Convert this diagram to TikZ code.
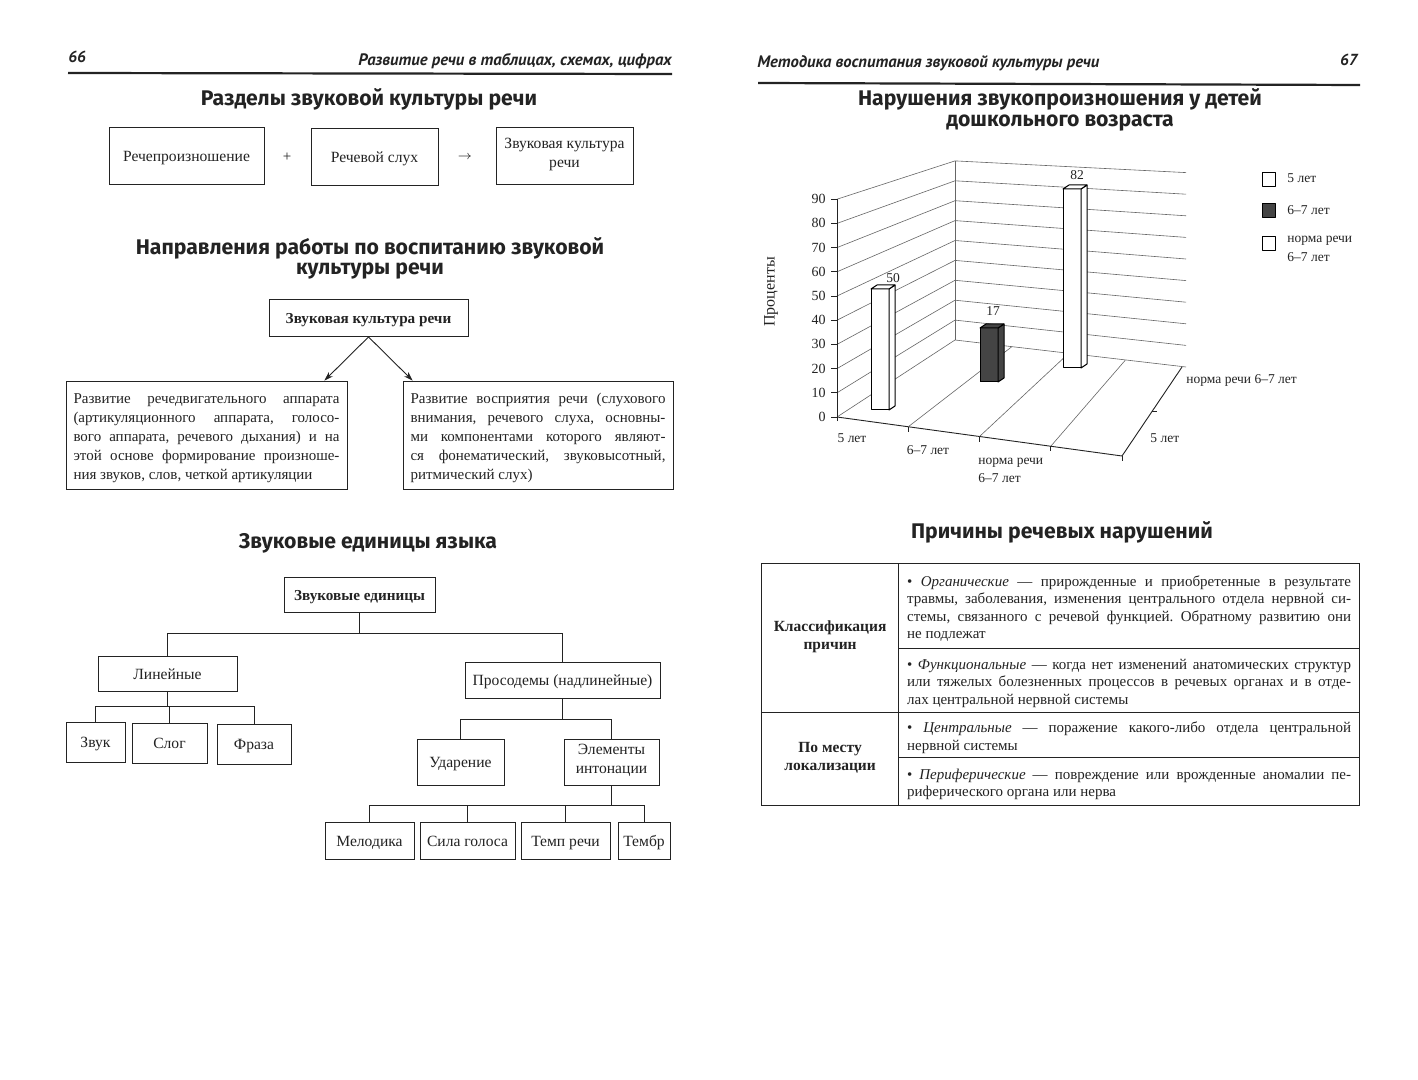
\documentclass[tikz,border=0pt]{standalone}
\usepackage{fontspec}
\setmainfont{Liberation Serif}
\newfontfamily\headfont{Fira Sans}
\newfontfamily\runfont{PT Sans}
\usetikzlibrary{arrows.meta,calc}
\frenchspacing
\definecolor{ink}{RGB}{35,35,35}
\definecolor{barfill}{RGB}{68,68,68}
\newcommand{\cellstrut}{\rule[-0.3\baselineskip]{0pt}{1.2\baselineskip}}
\tikzset{cell/.style={draw=ink,line width=0.45pt,inner sep=0pt,align=center,text=ink,execute at begin node=\cellstrut,font=\fontsize{7.8}{9.5}\selectfont},
  para/.style={cell,align=justify,inner xsep=3.75pt,font=\fontsize{7.5}{9.5}\selectfont},
  tcell/.style={cell,anchor=north west,line width=0.6pt,font=\fontsize{7.5}{8.75}\selectfont},
  title/.style={text=ink,align=center,font=\headfont\bfseries\fontsize{10.6}{10.2}\selectfont},
  running/.style={text=ink,inner sep=0pt,font=\runfont\bfseries\itshape\fontsize{8.3}{9}\selectfont},
  link/.style={draw=ink,line width=0.45pt},
  arrow/.style={link,-{Stealth[length=4.5pt,width=3pt]}},
  grid/.style={draw=black!60,line width=0.3pt},
  barline/.style={draw=black,line width=0.5pt,line join=round},
  chartlabel/.style={text=ink,inner sep=0pt,font=\fontsize{6.75}{9.5}\selectfont}}
\newcommand{\pillar}[4]{%
  \draw[barline,fill=#4] (#1,#2) rectangle ({#1+18},#3);
  \draw[barline,fill=#4] ({#1+18},#2) -- ({#1+24},{#2-4}) -- ({#1+24},{#3-4}) -- ({#1+18},#3) -- cycle;
  \draw[barline,fill=#4] (#1,#3) -- ({#1+6},{#3-4}) -- ({#1+24},{#3-4}) -- ({#1+18},#3) -- cycle;}

\begin{document}
\begin{tikzpicture}[x=0.5pt,y=-0.5pt]
  \useasboundingbox[fill=white] (0,0) rectangle (1418,1080);
  % page 66
  \node[running,anchor=west,font=\runfont\bfseries\itshape\fontsize{8}{9}\selectfont] (pnl) at (68,57) {66};
  \node[running,anchor=east] (headl) at (672,61) {Развитие речи в таблицах, схемах, цифрах};
  \draw[ink,line width=1.1pt] (68,73) -- (672,74);

  \node[title] (t1) at (369,99) {Разделы звуковой культуры речи};
  \node[cell,minimum width=77.5pt,minimum height=28.5pt] (rech) at (186.5,156) {Речепроизношение};
  \node[cell,minimum width=63.5pt,minimum height=28.5pt] (sluh) at (374.5,156.5) {Речевой слух};
  \node[cell,minimum width=68.5pt,minimum height=28.5pt] (kultura) at (564.5,156) {Звуковая культура\\речи};
  \node[text=ink,font=\fontsize{7.5}{9}\selectfont] (plus) at (287,157) {+};
  \node[text=ink,font=\fontsize{6}{7}\selectfont] (yields) at (465,157) {$\rightarrow$};

  \node[title] (t2) at (370,258.5) {Направления работы по воспитанию звуковой\\культуры речи};
  \node[cell,minimum width=99.5pt,minimum height=18.5pt,font=\bfseries\fontsize{7.6}{9}\selectfont] (zkr) at (368.5,318) {Звуковая культура речи};
  \node[para,text width=133pt,minimum height=54pt] (dvig) at (206.5,435) {Развитие речедвигательного аппарата\linebreak (артикуляционного аппарата, голосо-\linebreak вого аппарата, речевого дыхания) и на\linebreak этой основе формирование произноше-\linebreak ния звуков, слов, четкой артикуляции};
  \node[para,text width=127.5pt,minimum height=54pt] (vospr) at (538,435) {Развитие восприятия речи (слухового\linebreak внимания, речевого слуха, основны-\linebreak ми компонентами которого являют-\linebreak ся фонематический, звуковысотный,\linebreak ритмический слух)};
  \draw[arrow] (zkr.south) -- ($(dvig.north east)+(-23,0)$);
  \draw[arrow] (zkr.south) -- ($(vospr.north west)+(10,0)$);

  \node[title] (t3) at (368,543) {Звуковые единицы языка};
  \node[cell,minimum width=75.5pt,minimum height=17.5pt,font=\bfseries\fontsize{7.6}{9}\selectfont] (units) at (359.5,595) {Звуковые единицы};
  \node[cell,minimum width=69.5pt,minimum height=17.5pt] (lin) at (167.5,673.5) {Линейные};
  \node[cell,minimum width=97.5pt,minimum height=18pt] (pros) at (562.5,680) {Просодемы (надлинейные)};
  \node[cell,minimum width=29.5pt,minimum height=20pt] (zvuk) at (95.5,742) {Звук};
  \node[cell,minimum width=37.5pt,minimum height=20pt] (slog) at (169.5,743) {Слог};
  \node[cell,minimum width=37pt,minimum height=20pt] (fraza) at (254,744) {Фраза};
  \node[cell,minimum width=43.5pt,minimum height=23pt] (udar) at (460.5,762) {Ударение};
  \node[cell,minimum width=47.5pt,minimum height=23pt] (elem) at (611.5,762) {Элементы\\интонации};
  \node[cell,minimum width=44.5pt,minimum height=18.5pt] (melod) at (369.5,840.5) {Мелодика};
  \node[cell,minimum width=47.5pt,minimum height=18.5pt] (sila) at (467.5,840.5) {Сила голоса};
  \node[cell,minimum width=44.5pt,minimum height=18.5pt] (temp) at (565.5,840.5) {Темп речи};
  \node[cell,minimum width=26pt,minimum height=18.5pt] (tembr) at (644,840.5) {Тембр};
  \coordinate (fork1) at ($(units.south)+(0,20)$);
  \coordinate (fork2) at ($(lin.south)+(0,15)$);
  \coordinate (fork3) at ($(pros.south)+(0,21)$);
  \coordinate (fork4) at ($(elem.south)+(0,20)$);
  \draw[link] (units.south) -- (fork1);
  \draw[link] (lin.north) |- (fork1) -| (pros.north);
  \draw[link] (lin.south) -- (fork2);
  \draw[link] (zvuk.north) |- (fork2) -| (fraza.north);
  \draw[link] (slog.north) -- (slog.north |- fork2);
  \draw[link] (pros.south) -- (fork3);
  \draw[link] (udar.north) |- (fork3) -| (elem.north);
  \draw[link] (elem.south) -- (fork4);
  \draw[link] (melod.north) |- (fork4) -| (tembr.north);
  \draw[link] (sila.north) -- (sila.north |- fork4);
  \draw[link] (temp.north) -- (temp.north |- fork4);

  % page 67
  \node[running,anchor=west] (headr) at (757,63) {Методика воспитания звуковой культуры речи};
  \node[running,anchor=east,font=\runfont\bfseries\itshape\fontsize{8}{9}\selectfont] (pnr) at (1358,60) {67};
  \draw[ink,line width=1.1pt] (758,83) -- (1360,85);

  \node[title] (t4) at (1060,110) {Нарушения звукопроизношения у детей\\дошкольного возраста};
  % walls and floor
  \foreach \i in {0,...,9}{
    \draw[grid] (837,{417-24.2*\i}) -- (955,{340-19.9*\i}) -- (1186,{367-21.6*\i});
    \draw[link] (831,{417-24.2*\i}) -- (837,{417-24.2*\i});
  }
  \draw[link] (837,421) -- (837,199);
  \draw[grid] (955,340) -- (955,161);
  \draw[link] (837,417) -- (1122,456) -- (1182,367);
  \foreach \k in {1,2,3}
    \draw[grid] ({837+71.25*\k},{417+9.75*\k}) -- ({955+56.75*\k},{340+6.75*\k});
  \foreach \k in {1,...,4}
    \draw[link] ({837+71.25*\k},{417+9.75*\k}) -- ++(0,5);
  \draw[link] (1152,411.5) -- ++(5,0);
  \foreach \v [count=\i from 0] in {0,10,...,90}
    \node[chartlabel,anchor=east,font=\fontsize{7}{8}\selectfont] (tick\v) at (826,{417-24.2*\i}) {\v};
  \node[chartlabel,rotate=90,font=\fontsize{8}{9}\selectfont] (proc) at (771,292) {Проценты};
  % bars
  \pillar{871}{410}{289}{white}
  \pillar{980}{382}{328}{barfill}
  \pillar{1063}{368}{189}{white}
  \node[chartlabel] (v50) at (893,278) {50};
  \node[chartlabel] (v17) at (993,311) {17};
  \node[chartlabel] (v82) at (1077,175) {82};
  \node[chartlabel] (c1) at (852,438) {5 лет};
  \node[chartlabel] (c2) at (928,450) {6–7 лет};
  \node[chartlabel,anchor=north west,align=left,font=\fontsize{6.75}{8.75}\selectfont] (c3) at (978,458) {норма речи\\6–7 лет};
  \node[chartlabel,anchor=west] (d1) at (1150,438) {5 лет};
  \node[chartlabel,anchor=west] (d2) at (1186,380) {норма речи 6–7 лет};
  % legend
  \draw[barline,line width=0.4pt,fill=white] (1262,172) rectangle (1275,186);
  \draw[barline,line width=0.4pt,fill=barfill] (1262,203) rectangle (1275,217);
  \draw[barline,line width=0.4pt,fill=white] (1262,236) rectangle (1275,250);
  \node[chartlabel,anchor=west] (lg1) at (1287,178) {5 лет};
  \node[chartlabel,anchor=west] (lg2) at (1287,210) {6–7 лет};
  \node[chartlabel,anchor=north west,align=left] (lg3) at (1287,236) {норма речи\\6–7 лет};

  \node[title] (t5) at (1062,532) {Причины речевых нарушений};
  \node[tcell,minimum width=68.5pt,minimum height=74.5pt,font=\bfseries\fontsize{7.75}{9}\selectfont] (klass) at (761,563) {Классификация\\причин};
  \node[tcell,minimum width=68.5pt,minimum height=46.5pt,font=\bfseries\fontsize{7.75}{9}\selectfont] (mesto) at (761,712) {По месту\\локализации};
  \node[tcell,align=justify,text width=222pt,inner xsep=4.25pt,minimum height=42.5pt] (org) at (898,563) {\textbullet\ \textit{Органические} — прирожденные и приобретенные в результате\linebreak травмы, заболевания, изменения центрального отдела нервной си-\linebreak стемы, связанного с речевой функцией. Обратному развитию они\linebreak не подлежат};
  \node[tcell,align=justify,text width=222pt,inner xsep=4.25pt,minimum height=32pt] (func) at (898,648) {\textbullet\ \textit{Функциональные} — когда нет изменений анатомических структур\linebreak или тяжелых болезненных процессов в речевых органах и в отде-\linebreak лах центральной нервной системы};
  \node[tcell,align=justify,text width=222pt,inner xsep=4.25pt,minimum height=22.5pt] (centr) at (898,712) {\textbullet\ \textit{Центральные} — поражение какого-либо отдела центральной\linebreak нервной системы};
  \node[tcell,align=justify,text width=222pt,inner xsep=4.25pt,minimum height=24pt] (perif) at (898,757) {\textbullet\ \textit{Периферические} — повреждение или врожденные аномалии пе-\linebreak риферического органа или нерва};
\end{tikzpicture}
\end{document}
